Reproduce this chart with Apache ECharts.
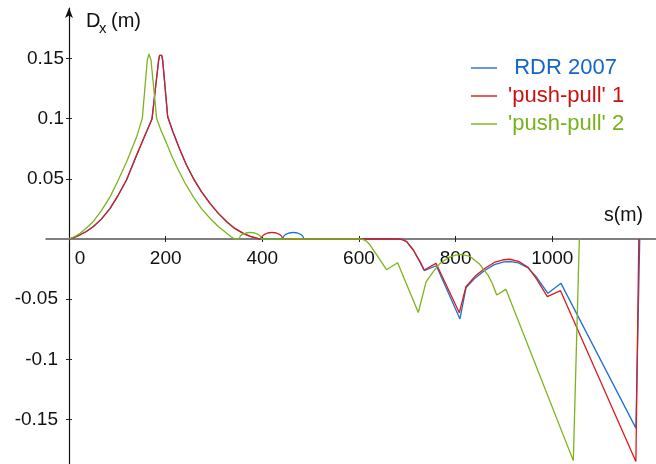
<!DOCTYPE html>
<html><head><meta charset="utf-8">
<script src="https://cdn.jsdelivr.net/npm/echarts@6/dist/echarts.min.js"></script>
<style>html,body{margin:0;padding:0;background:#fff}#c{width:656px;height:464px}</style>
</head><body><div id="c"></div>
<script>
// s (m) positions and Dx (m) values
const sRDR = [0,12,23,35,50,67,85,102,119,140,154,171.7,185.5,187.5,189.7,191.8,193.8,204.2,215,229.7,243,257.2,274,291.7,309,326.3,343,360.7,375,388,395,442,444.2,448.6,455.2,464,472.8,479.4,483.8,486,681,690,698.7,712.4,726.3,735,760,809,821.4,840,860,880,900,914,930,950,968,991,1018,1173,1181];
const dRDR = [0,0.0015,0.0035,0.006,0.0102,0.0165,0.0255,0.0365,0.049,0.0697,0.083,0.0996,0.1486,0.1525,0.154,0.1525,0.1486,0.1015,0.089,0.0739,0.0615,0.0504,0.0393,0.0296,0.0213,0.0144,0.0088,0.0047,0.0022,0.0008,0,0,0.0024,0.0039,0.005,0.0055,0.005,0.0039,0.0024,0,0,-0.0006,-0.0022,-0.0091,-0.0192,-0.0262,-0.0222,-0.0664,-0.0405,-0.0325,-0.0262,-0.0213,-0.019,-0.0188,-0.0198,-0.024,-0.032,-0.0451,-0.0368,-0.157,0];

const sPP1 = [0,12,23,35,50,67,85,102,119,140,154,171.7,185.5,187.5,189.7,191.8,193.8,204.2,215,229.7,243,257.2,274,291.7,309,326.3,343,360.7,375,388,395,398,400.2,404.5,411,420,429,435.5,439.8,442,681,690,698.7,712.4,726.3,735,759.4,807.6,821.4,840,860,880,900,912,930,950,968,989.7,1017,1173,1179];
const dPP1 = [0,0.0015,0.0035,0.006,0.0102,0.0165,0.0255,0.0365,0.049,0.0697,0.083,0.0996,0.1486,0.1525,0.154,0.1525,0.1486,0.1015,0.089,0.0739,0.0615,0.0504,0.0393,0.0296,0.0213,0.0144,0.0088,0.0047,0.0022,0.0008,0,0,0.0024,0.0039,0.005,0.0055,0.005,0.0039,0.0024,0,0,-0.0006,-0.0022,-0.0091,-0.0188,-0.0257,-0.0202,-0.0612,-0.0396,-0.031,-0.0245,-0.0195,-0.0172,-0.0168,-0.0185,-0.0235,-0.0335,-0.0479,-0.0429,-0.1848,0];

const sPP2 = [0,12,23,35,50,67,85,102,119,140,151.7,162,165.5,169.7,181.4,190,202,212,222.8,240,257.2,274,291.7,309,326.3,336,343,352,354.3,358.9,365.8,375,384.2,391.1,395.7,398,605,615,623,637,647,657,680,722.8,739,755,767,785,800,812,830,850,867,876,885,904,1043.5,1056];
const dPP2 = [0,0.0021,0.0047,0.0088,0.0144,0.0235,0.035,0.049,0.064,0.085,0.1002,0.1485,0.1536,0.1485,0.100,0.0905,0.0794,0.0695,0.060,0.0465,0.035,0.0252,0.0172,0.0104,0.0047,0.0017,0,0,0.0024,0.0039,0.005,0.0055,0.005,0.0039,0.0024,0,0,-0.0015,-0.005,-0.0133,-0.0194,-0.0255,-0.0197,-0.061,-0.0354,-0.0265,-0.0205,-0.0155,-0.0133,-0.0127,-0.0145,-0.021,-0.03,-0.037,-0.0465,-0.0418,-0.184,0];

const seriesNames = ['RDR 2007', "'push-pull' 1", "'push-pull' 2"];
const xTicks = [0,200,400,600,800,1000];
const yTicks = [-0.15,-0.1,-0.05,0.05,0.1,0.15];

const FONT = '"Liberation Sans", Arial, Helvetica, sans-serif';
const C_BLUE = '#1f6fd6', C_RED = '#d81c1c', C_GREEN = '#7cb41c';
const T_BLUE = '#1565c8', T_RED = '#cc1010', T_GREEN = '#78b21a';

function zip(s, d) { return s.map((x, i) => [x, d[i]]); }

const XMIN = -47.6, XMAX = 1214.6, YMIN = -0.1868, YMAX = 0.1918;
const GL = 46, GT = 8, GW = 610, GH = 456;
// offsets that put the axes through the origin
const xOff = -(GH - (YMAX / (YMAX - YMIN)) * GH);
const yOff = -((0 - XMIN) / (XMAX - XMIN) * GW);

const chart = echarts.init(document.getElementById('c'), null, {renderer: 'canvas'});
const option = {
  animation: false,
  backgroundColor: '#fff',
  grid: {left: GL, top: GT, width: GW, height: GH, containLabel: false, outerBoundsMode: 'none'},
  xAxis: [{
    type: 'value', min: XMIN, max: XMAX, position: 'bottom', offset: xOff,
    axisLine: {onZero: false, lineStyle: {color: '#555', width: 1.5}},
    axisTick: {customValues: xTicks, length: 3, lineStyle: {color: '#222', width: 1}},
    axisLabel: {
      customValues: xTicks, margin: 10, fontSize: 19, color: '#111', fontFamily: FONT,
      formatter: v => v === 0 ? '{z|0}' : '{n|' + v + '}',
      rich: {
        z: {fontSize: 19, color: '#111', fontFamily: FONT, padding: [0, 0, 0, 22]},
        n: {fontSize: 19, color: '#111', fontFamily: FONT}
      }
    },
    splitLine: {show: false}
  }, {
    type: 'value', min: XMIN, max: XMAX, position: 'bottom', offset: xOff,
    axisLine: {onZero: false, lineStyle: {color: 'rgba(0,0,0,0)'}},
    axisTick: {inside: true, customValues: xTicks, length: 3, lineStyle: {color: '#222', width: 1}},
    axisLabel: {show: false},
    splitLine: {show: false}
  }],
  yAxis: [{
    type: 'value', min: YMIN, max: YMAX, position: 'left', offset: yOff,
    axisLine: {onZero: false, symbol: ['none', 'arrow'], symbolSize: [6, 10], lineStyle: {color: '#111', width: 1.2}},
    axisTick: {customValues: yTicks, length: 3, lineStyle: {color: '#222', width: 1}},
    axisLabel: {
      customValues: yTicks, margin: 5, fontSize: 19, color: '#111', fontFamily: FONT,
      formatter: v => v < 0 ? '{m|' + v + '}' : '{p|' + v + '}',
      rich: {
        m: {fontSize: 19, color: '#111', fontFamily: FONT, padding: [0, 6, 0, 0]},
        p: {fontSize: 19, color: '#111', fontFamily: FONT}
      }
    },
    splitLine: {show: false}
  }, {
    type: 'value', min: YMIN, max: YMAX, position: 'left', offset: yOff,
    axisLine: {onZero: false, lineStyle: {color: 'rgba(0,0,0,0)'}},
    axisTick: {inside: true, customValues: yTicks, length: 3, lineStyle: {color: '#222', width: 1}},
    axisLabel: {show: false},
    splitLine: {show: false}
  }],
  legend: {
    orient: 'vertical', left: 466, top: 52, itemWidth: 26, itemHeight: 1.4, itemGap: 6,
    icon: 'rect',
    selectedMode: false,
    textStyle: {fontSize: 22, fontFamily: FONT, lineHeight: 22},
    formatter: n => (n === seriesNames[0] ? '  ' : ' ') + n,
    data: [
      {name: seriesNames[0], textStyle: {color: T_BLUE}},
      {name: seriesNames[1], textStyle: {color: T_RED}},
      {name: seriesNames[2], textStyle: {color: T_GREEN}}
    ]
  },
  graphic: [
    {type: 'text', left: 86, top: 11, style: {text: 'D', fontSize: 20, fontFamily: FONT, fill: '#111'}},
    {type: 'text', left: 99, top: 21, style: {text: 'x', fontSize: 15, fontFamily: FONT, fill: '#111'}},
    {type: 'text', left: 111, top: 11, style: {text: '(m)', fontSize: 20, fontFamily: FONT, fill: '#111'}},
    {type: 'text', left: 604, top: 206, style: {text: 's(m)', fontSize: 19.5, fontFamily: FONT, fill: '#111'}}
  ],
  series: [
    {name: seriesNames[0], type: 'line', xAxisIndex: 0, yAxisIndex: 0, data: zip(sRDR, dRDR), symbol: 'none', showSymbol: false, z: 2, color: C_BLUE, lineStyle: {color: C_BLUE, width: 1.3}},
    {name: seriesNames[1], type: 'line', xAxisIndex: 0, yAxisIndex: 0, data: zip(sPP1, dPP1), symbol: 'none', showSymbol: false, z: 3, color: C_RED, lineStyle: {color: C_RED, width: 1.3}},
    {name: seriesNames[2], type: 'line', xAxisIndex: 0, yAxisIndex: 0, data: zip(sPP2, dPP2), symbol: 'none', showSymbol: false, z: 4, color: C_GREEN, lineStyle: {color: C_GREEN, width: 1.3}}
  ]
};
chart.setOption(option);
</script>
</body></html>
